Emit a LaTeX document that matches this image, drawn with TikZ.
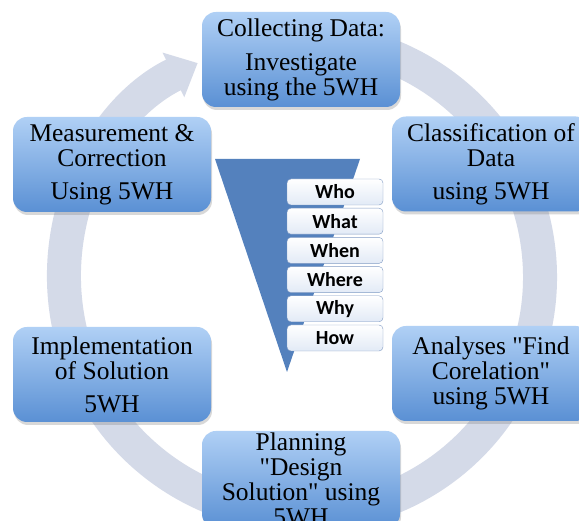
\documentclass[tikz,border=0pt]{standalone}
\usepackage{fontspec}
\setmainfont{Liberation Serif}[Ligatures=TeXOff]
\newfontfamily\wfont{Carlito}
\usetikzlibrary{arrows.meta,shadows}

\definecolor{ringgray}{RGB}{212,218,232}
\definecolor{funnelblue}{RGB}{84,129,189}
\definecolor{stageTop}{RGB}{176,208,245}
\definecolor{stageBot}{RGB}{90,144,212}
\definecolor{wEdge}{RGB}{128,155,196}
\definecolor{wBot}{RGB}{226,234,246}

\tikzset{
  stage/.style={rounded corners=14pt, minimum width=198pt, minimum height=95pt,
    top color=stageTop, bottom color=stageBot, align=center, inner sep=2pt,
    font=\fontsize{25.5}{25}\selectfont,
    drop shadow={shadow xshift=1pt, shadow yshift=-3pt, opacity=0.3}},
  wbox/.style={draw=wEdge, rounded corners=4pt, minimum width=96pt,
    minimum height=26pt, inner sep=0pt, top color=white, bottom color=wBot,
    font=\wfont\bfseries\fontsize{20}{20}\selectfont}
}

\begin{document}
\begin{tikzpicture}[x=1pt,y=1pt]
\useasboundingbox (0,0) rectangle (579,521);
\clip (0,0) rectangle (579,521);
\fill[white] (0,0) rectangle (579,521);

% the cycle
\draw[ringgray, line width=34pt, -{Triangle[width=48pt,length=27pt]}]
  (302,244) ++(100:238) arc[start angle=100, end angle=-244, radius=238];

% funnel with the questions
\fill[funnelblue] (215,362) -- (360,362) -- (287,149) -- cycle;
\foreach \w [count=\i from 0] in {Who,What,When,Where,Why,How}
  \node[wbox] (w\i) at (335,329-29.2*\i) {\w};

\node[stage] (collect) at (301,461.5) {Collecting Data:\\[9pt] Investigate\\ using the 5WH};
\node[stage] (classify) at (491,357) {Classification of\\ Data\\[8pt] using 5WH};
\node[stage] (analyse) at (491,147.5) {Analyses "Find\\ Corelation"\\ using 5WH};
\node[stage] (plan) at (301,41.5) {Planning\\ "Design\\ Solution" using\\ 5WH};
\node[stage] (implement) at (112,146.5) {Implementation\\ of Solution\\[8pt] 5WH};
\node[stage] (measure) at (112,356.5) {Measurement \&\\ Correction\\[8pt] Using 5WH};
\end{tikzpicture}
\end{document}
